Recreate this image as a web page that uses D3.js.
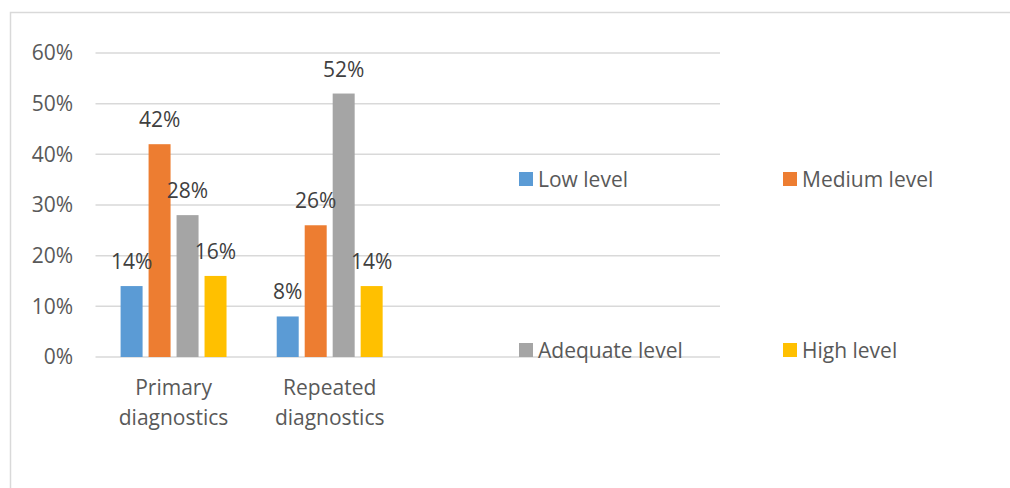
<!DOCTYPE html>
<html>
<head>
<meta charset="utf-8">
<script src="https://cdn.jsdelivr.net/npm/d3@7"></script>
<style>
  html, body { margin: 0; padding: 0; background: #fff; }
  svg { display: block; font-family: "Open Sans", "Noto Sans", sans-serif; }
</style>
</head>
<body>
<svg id="chart" width="1010" height="488"></svg>
<script>
// Diagnostic results by level
const categories = [["Primary", "diagnostics"], ["Repeated", "diagnostics"]];
const seriesNames = ["Low level", "Medium level", "Adequate level", "High level"];
const seriesColors = ["#5b9bd5", "#ed7d31", "#a5a5a5", "#ffc000"];
const lowLevel = [0.14, 0.08];
const mediumLevel = [0.42, 0.26];
const adequateLevel = [0.28, 0.52];
const highLevel = [0.16, 0.14];
const yTicks = [0, 0.1, 0.2, 0.3, 0.4, 0.5, 0.6];

const seriesValues = [lowLevel, mediumLevel, adequateLevel, highLevel];
const catKeys = categories.map(c => c.join(" "));
const FONT_SIZE = 21;

const svg = d3.select("#chart");

// chart frame
svg.append("path")
  .attr("d", "M10.5,490 V12.5 H1012")
  .attr("fill", "none")
  .attr("stroke", "#d9d9d9")
  .attr("stroke-width", 1.5);

const plot = { left: 95.5, right: 720, top: 53, bottom: 357 };
const bandStep = (plot.right - plot.left) / 4;

const y = d3.scaleLinear().domain([0, 0.6]).range([plot.bottom, plot.top]);
const x0 = d3.scaleBand().domain(catKeys)
  .range([plot.left, plot.left + bandStep * catKeys.length]);
const x1 = d3.scaleBand().domain(seriesNames)
  .range([0, x0.bandwidth()])
  .paddingInner(6 / 28)
  .paddingOuter(0.897);

// gridlines
svg.append("g")
  .selectAll("line")
  .data(yTicks)
  .join("line")
  .attr("x1", plot.left)
  .attr("x2", plot.right)
  .attr("y1", d => y(d))
  .attr("y2", d => y(d))
  .attr("stroke", "#d9d9d9")
  .attr("stroke-width", 1.5);

// y axis labels
const yAxis = d3.axisLeft(y).tickValues(yTicks).tickFormat(d3.format(".0%")).tickSize(0).tickPadding(0);
const yg = svg.append("g").attr("transform", "translate(73,0)").call(yAxis);
yg.select(".domain").remove();
yg.selectAll("text")
  .attr("fill", "#595959")
  .attr("font-size", FONT_SIZE)
  .attr("font-family", "'Open Sans', sans-serif");

// bars
const groups = svg.append("g")
  .selectAll("g")
  .data(catKeys)
  .join("g")
  .attr("transform", d => `translate(${x0(d)},0)`);

groups.each(function(cat, ci) {
  const g = d3.select(this);
  const rows = seriesNames.map((s, si) => ({ s, si, v: seriesValues[si][ci] }));
  g.selectAll("rect")
    .data(rows)
    .join("rect")
    .attr("x", d => x1(d.s))
    .attr("width", x1.bandwidth())
    .attr("y", d => y(d.v))
    .attr("height", d => y(0) - y(d.v))
    .attr("fill", d => seriesColors[d.si]);
  g.selectAll("text")
    .data(rows)
    .join("text")
    .attr("x", d => x1(d.s) + x1.bandwidth() / 2)
    .attr("y", d => y(d.v) - 17)
    .attr("text-anchor", "middle")
    .attr("font-size", FONT_SIZE)
    .attr("fill", "#404040")
    .text(d => d3.format(".0%")(d.v));
});

// category labels
const catG = svg.append("g");
categories.forEach((lines, i) => {
  const cx = x0(catKeys[i]) + x0.bandwidth() / 2;
  lines.forEach((ln, j) => {
    catG.append("text")
      .attr("x", cx)
      .attr("y", 395 + j * 30)
      .attr("text-anchor", "middle")
      .attr("font-size", FONT_SIZE)
      .attr("fill", "#595959")
      .text(ln);
  });
});

// legend
const legendPos = [[519, 172], [783, 172], [519, 343], [783, 343]];
const legend = svg.append("g")
  .selectAll("g")
  .data(seriesNames)
  .join("g")
  .attr("transform", (d, i) => `translate(${legendPos[i][0]},${legendPos[i][1]})`);
legend.append("rect")
  .attr("width", 14)
  .attr("height", 14)
  .attr("fill", (d, i) => seriesColors[i]);
legend.append("text")
  .attr("x", 19)
  .attr("y", 14.5)
  .attr("font-size", FONT_SIZE)
  .attr("fill", "#595959")
  .text(d => d);
</script>
</body>
</html>
